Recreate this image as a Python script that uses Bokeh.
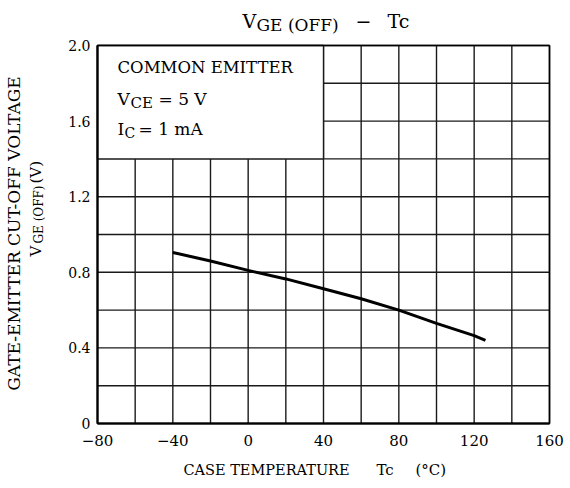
import math
from bokeh.plotting import figure
from bokeh.models import FixedTicker, Label, Range1d
from bokeh.embed import file_html
from bokeh.resources import INLINE

# ---- data ----
temp_c = [-40, -20, 0, 20, 40, 60, 80, 100, 120, 126]
vge_off = [0.905, 0.86, 0.81, 0.765, 0.713, 0.66, 0.60, 0.53, 0.465, 0.44]

x_ticks = [-80, -40, 0, 40, 80, 120, 160]
x_tick_labels = ["\u221280", "\u221240", "0", "40", "80", "120", "160"]
y_ticks = [0, 0.4, 0.8, 1.2, 1.6, 2.0]
y_tick_labels = ["0", "0.4", "0.8", "1.2", "1.6", "2.0"]
x_grid = [-80, -60, -40, -20, 0, 20, 40, 60, 80, 100, 120, 140, 160]
y_grid = [0, 0.2, 0.4, 0.6, 0.8, 1.0, 1.2, 1.4, 1.6, 1.8, 2.0]
x_min, x_max = -80, 160
y_min, y_max = 0.0, 2.0
box_left, box_right, box_bottom, box_top = [-80], [40], [1.4], [2.0]

# ---- layout (pixels) ----
W, H = 570, 488
PL, PR, PT, PB = 97, 549, 45, 423          # plot-area edges on the canvas
kx = (PR - PL) / (x_max - x_min)
ky = (PB - PT) / (y_max - y_min)
xr = Range1d(x_min - PL / kx, x_max + (W - PR) / kx)
yr = Range1d(y_min - (H - PB) / ky, y_max + PT / ky)

FONT = "DejaVu Serif"
GRID = "#1a1a1a"

p = figure(width=W, height=H, x_range=xr, y_range=yr, title=None,
           output_backend="svg", toolbar_location=None,
           min_border_left=0, min_border_right=0, min_border_top=0, min_border_bottom=0)
p.background_fill_color = "white"
p.border_fill_color = "white"
p.outline_line_color = None
p.xgrid.visible = False
p.ygrid.visible = False

# grid lines restricted to the plot area
p.segment(x0=x_grid, y0=[y_min] * len(x_grid), x1=x_grid, y1=[y_max] * len(x_grid),
          line_color=GRID, line_width=1.4)
p.segment(x0=[x_min] * len(y_grid), y0=y_grid, x1=[x_max] * len(y_grid), y1=y_grid,
          line_color=GRID, line_width=1.4)

# white box holding the conditions
p.quad(left=box_left, right=box_right, bottom=box_bottom, top=box_top,
       fill_color="white", line_color=GRID, line_width=1.4)

# plot-area border
p.quad(left=[x_min], right=[x_max], bottom=[y_min], top=[y_max],
       fill_color=None, line_color="black", line_width=1.6)

p.line(temp_c, vge_off, line_color="black", line_width=3)

# axes fixed at the plot-area edges
p.xaxis.fixed_location = y_min
p.yaxis.fixed_location = x_min
p.xaxis.bounds = (x_min, x_max)
p.yaxis.bounds = (y_min, y_max)
p.xaxis.ticker = FixedTicker(ticks=x_ticks)
p.xaxis.major_label_overrides = dict(zip(x_ticks, x_tick_labels))
p.yaxis.ticker = FixedTicker(ticks=y_ticks)
p.yaxis.major_label_overrides = dict(zip(y_ticks, y_tick_labels))
for ax in (p.xaxis, p.yaxis):
    ax.major_tick_in = 0
    ax.major_tick_out = 0
    ax.minor_tick_in = 0
    ax.minor_tick_out = 0
    ax.axis_line_width = 2
    ax.axis_line_color = "black"
    ax.major_label_text_font = FONT
    ax.major_label_text_color = "black"
p.xaxis.major_label_text_font_size = "15px"
p.xaxis.major_label_standoff = 11
p.yaxis.major_label_text_font_size = "14px"
p.yaxis.major_label_standoff = 7


def add_text(t, px, py, size, angle=0.0, align="left", baseline="middle"):
    p.add_layout(Label(x=px, y=H - py, x_units="screen", y_units="screen",
                       text=t, text_font=FONT, text_font_size=f"{size}px",
                       text_align=align, text_baseline=baseline, angle=angle,
                       text_color="black"))


# title  V_GE(OFF) - Tc
add_text("V", 242, 20, 19)
add_text("GE (OFF)", 256, 24, 17)
add_text("\u2212", 355, 20, 19)
add_text("Tc", 387, 20, 19)

# conditions box
add_text("COMMON EMITTER", 117, 67, 16.5)
add_text("V", 117, 98, 17)
add_text("CE", 130, 102, 15)
add_text("= 5 V", 158, 98, 17)
add_text("I", 117, 128, 17)
add_text("C", 124, 132, 14)
add_text("= 1 mA", 138, 128, 17)

# x axis title
add_text("CASE TEMPERATURE", 183, 469, 14.5)
add_text("Tc", 376, 469, 15)
add_text("(\u00b0C)", 415, 469, 15)

# y axis title (rotated)
A = math.pi / 2
add_text("GATE-EMITTER CUT-OFF VOLTAGE", 13, 233, 17, angle=A, align="center")
add_text("V", 35, 256, 15, angle=A)
add_text("GE (OFF)", 38, 243, 12, angle=A)
add_text("(V)", 35, 183, 15, angle=A)

open("out.html", "w").write(file_html(p, INLINE))
